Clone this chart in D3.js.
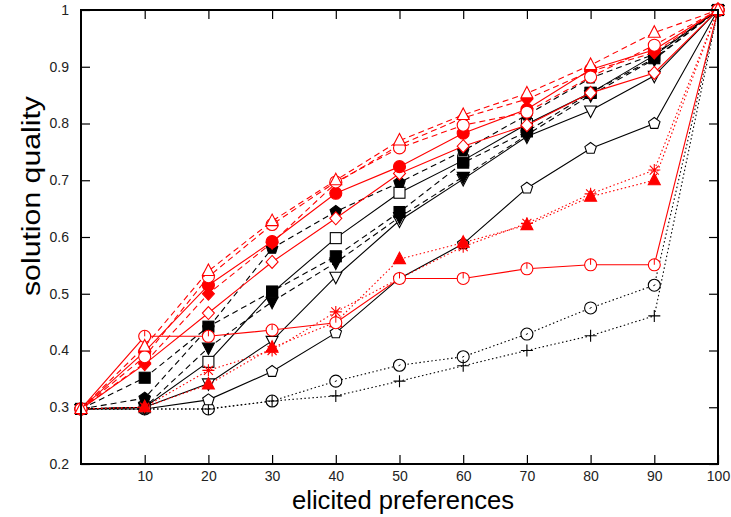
<!DOCTYPE html>
<html><head><meta charset="utf-8">
<script src="https://cdn.jsdelivr.net/npm/d3@7"></script>
<style>
body{margin:0;background:#fff;}
text{font-family:"Liberation Sans",Arial,sans-serif;}
</style></head>
<body><svg id="c" width="731" height="517"></svg>
<script>
const xValues = [0,10,20,30,40,50,60,70,80,90,100];
const xTickLabels = [10,20,30,40,50,60,70,80,90,100];
const yTickValues = [0.2,0.3,0.4,0.5,0.6,0.7,0.8,0.9,1];

const blackPentagonOpen   = [0.297,0.297,0.313,0.363,0.431,0.527,0.588,0.686,0.756,0.800,1];
const blackDownOpen       = [0.297,0.300,0.342,0.417,0.530,0.629,0.702,0.777,0.823,0.884,1];
const blackSquareOpen     = [0.297,0.300,0.380,0.502,0.598,0.678,0.735,0.799,0.854,0.920,1];
const blackSquareFilled   = [0.297,0.352,0.442,0.504,0.566,0.644,0.731,0.786,0.854,0.915,1];
const blackDownFilled     = [0.297,0.300,0.405,0.486,0.555,0.635,0.706,0.780,0.850,0.913,1];
const blackPentagonFilled = [0.297,0.316,0.440,0.580,0.645,0.696,0.752,0.815,0.880,0.922,1];
const blackCircleDotted   = [0.297,0.297,0.297,0.311,0.346,0.374,0.389,0.429,0.475,0.515,1];
const blackPlusDotted     = [0.297,0.297,0.297,0.311,0.320,0.346,0.373,0.400,0.426,0.461,1];
const redCircleSolid      = [0.297,0.425,0.425,0.436,0.449,0.527,0.527,0.544,0.551,0.551,1];
const redDiamondOpen      = [0.297,0.376,0.466,0.556,0.633,0.712,0.760,0.797,0.854,0.889,1];
const redCircleFilled     = [0.297,0.398,0.515,0.592,0.677,0.724,0.783,0.825,0.895,0.930,1];
const redTriangleOpen     = [0.297,0.407,0.540,0.628,0.700,0.770,0.815,0.853,0.903,0.960,1];
const redCircleOpenDashed = [0.297,0.389,0.530,0.622,0.697,0.757,0.797,0.820,0.882,0.938,1];
const redDiamondFilled    = [0.297,0.378,0.500,0.590,0.695,0.762,0.810,0.843,0.892,0.925,1];
const redTriangleFilled   = [0.297,0.300,0.340,0.405,0.450,0.561,0.590,0.621,0.671,0.700,1];
const redAsterisk         = [0.297,0.300,0.365,0.400,0.468,0.527,0.583,0.624,0.676,0.718,1];

const series = [
  {v: blackCircleDotted,   color:"#000", dash:"1.5,2.5", marker:"circledot",  fill:false},
  {v: blackPlusDotted,     color:"#000", dash:"1.5,2.5", marker:"plus",       fill:false},
  {v: blackPentagonOpen,   color:"#000", dash:null,      marker:"pentagon",   fill:false},
  {v: blackDownOpen,       color:"#000", dash:null,      marker:"down",       fill:false},
  {v: blackSquareOpen,     color:"#000", dash:null,      marker:"square",     fill:false},
  {v: blackDownFilled,     color:"#000", dash:"6,4",     marker:"down",       fill:true},
  {v: blackSquareFilled,   color:"#000", dash:"6,4",     marker:"square",     fill:true},
  {v: blackPentagonFilled, color:"#000", dash:"6,4",     marker:"pentagon",   fill:true},
  {v: redTriangleFilled,   color:"#f00", dash:"1.5,2.5", marker:"up",         fill:true},
  {v: redAsterisk,         color:"#f00", dash:"1.5,2.5", marker:"asterisk",   fill:false},
  {v: redCircleSolid,      color:"#f00", dash:null,      marker:"circletick", fill:false},
  {v: redDiamondOpen,      color:"#f00", dash:null,      marker:"diamond",    fill:false},
  {v: redCircleFilled,     color:"#f00", dash:null,      marker:"circle",     fill:true},
  {v: redDiamondFilled,    color:"#f00", dash:"6,4",     marker:"diamond",    fill:true},
  {v: redCircleOpenDashed, color:"#f00", dash:"6,4",     marker:"circle",     fill:false},
  {v: redTriangleOpen,     color:"#f00", dash:"6,4",     marker:"up",         fill:false}
];

const svg = d3.select("#c");
const L = 81, R = 718, T = 10, B = 464;
const x = d3.scaleLinear().domain([0,100]).range([L,R]);
const y = d3.scaleLinear().domain([0.2,1]).range([B,T]);

const tk = 9;
const gB = svg.append("g").attr("transform",`translate(0,${B})`)
  .call(d3.axisBottom(x).tickValues(xTickLabels).tickSizeInner(-tk).tickSizeOuter(0).tickPadding(7));
const gT = svg.append("g").attr("transform",`translate(0,${T})`)
  .call(d3.axisTop(x).tickValues(xTickLabels.slice(0,-1)).tickSizeInner(-tk).tickSizeOuter(0).tickFormat(""));
const gL = svg.append("g").attr("transform",`translate(${L},0)`)
  .call(d3.axisLeft(y).tickValues(yTickValues).tickSizeInner(-tk).tickSizeOuter(0).tickPadding(12)
    .tickFormat(d => d===1 ? "1" : d3.format(".1f")(d)));
const gR = svg.append("g").attr("transform",`translate(${R},0)`)
  .call(d3.axisRight(y).tickValues(yTickValues).tickSizeInner(-tk).tickSizeOuter(0).tickFormat(""));
[gB,gT,gL,gR].forEach(g=>{
  g.select(".domain").remove();
  g.selectAll("line").attr("stroke","#000").attr("stroke-width",1.2);
  g.selectAll("text").attr("font-size",14).attr("fill","#222")
   .style("font-family",'"Liberation Sans",Arial,sans-serif');
});

svg.append("clipPath").attr("id","clp").append("rect")
  .attr("x",L).attr("y",T).attr("width",R-L).attr("height",B-T);

const line = d3.line().x((d,i)=>x(xValues[i])).y(d=>y(d));
const plot = svg.append("g");

function drawMarker(g, type, cx, cy, col, filled){
  const s = 6;
  const f = filled ? col : "#fff";
  const st = {stroke:col, "stroke-width":1.1, fill:f};
  const apply = sel => { for (const k in st) sel.attr(k, st[k]); return sel; };
  if (type==="circle" || type==="circledot" || type==="circletick"){
    apply(g.append("circle").attr("cx",cx).attr("cy",cy).attr("r",s));
    if (type==="circledot") g.append("line").attr("x1",cx-1).attr("x2",cx+1).attr("y1",cy+0.5).attr("y2",cy-0.5).attr("stroke",col);
    if (type==="circletick") g.append("line").attr("x1",cx).attr("x2",cx).attr("y1",cy-s).attr("y2",cy).attr("stroke",col);
  } else if (type==="square"){
    apply(g.append("rect").attr("x",cx-s+0.5).attr("y",cy-s+0.5).attr("width",2*s-1).attr("height",2*s-1));
  } else if (type==="up"){
    apply(g.append("path").attr("d",`M${cx},${cy-s-1}L${cx+s},${cy+s-1.5}L${cx-s},${cy+s-1.5}Z`));
  } else if (type==="down"){
    apply(g.append("path").attr("d",`M${cx},${cy+s+1}L${cx+s},${cy-s+1.5}L${cx-s},${cy-s+1.5}Z`));
  } else if (type==="diamond"){
    apply(g.append("path").attr("d",`M${cx},${cy-s-0.5}L${cx+s},${cy}L${cx},${cy+s+0.5}L${cx-s},${cy}Z`));
  } else if (type==="pentagon"){
    const pts = d3.range(5).map(k=>{const a=-Math.PI/2+k*2*Math.PI/5; return [cx+s*Math.cos(a), cy+s*Math.sin(a)];});
    apply(g.append("path").attr("d","M"+pts.join("L")+"Z"));
  } else if (type==="plus"){
    g.append("path").attr("d",`M${cx-s},${cy}H${cx+s}M${cx},${cy-s}V${cy+s}`).attr("stroke",col).attr("stroke-width",1.1).attr("fill","none");
  } else if (type==="asterisk"){
    let d = `M${cx-s},${cy}H${cx+s}M${cx},${cy-s}V${cy+s}`;
    const q = s*0.75;
    d += `M${cx-q},${cy-q}L${cx+q},${cy+q}M${cx-q},${cy+q}L${cx+q},${cy-q}`;
    g.append("path").attr("d",d).attr("stroke",col).attr("stroke-width",1.1).attr("fill","none");
  }
}

series.forEach(s=>{
  const g = plot.append("g");
  const p = g.append("path").datum(s.v).attr("d",line).attr("fill","none")
    .attr("stroke",s.color).attr("stroke-width",1.1).attr("clip-path","url(#clp)");
  if (s.dash) p.attr("stroke-dasharray",s.dash);
  s.v.forEach((v,i)=> drawMarker(g, s.marker, x(xValues[i]), y(v), s.color, s.fill));
});

svg.append("rect").attr("x",L).attr("y",T).attr("width",R-L).attr("height",B-T)
  .attr("fill","none").attr("stroke","#000").attr("stroke-width",2);

svg.append("text").attr("x",403).attr("y",509).attr("text-anchor","middle")
  .attr("font-size",25).attr("fill","#000")
  .attr("textLength",222).attr("lengthAdjust","spacingAndGlyphs").text("elicited preferences");
svg.append("text").attr("transform","translate(40,196) rotate(-90)").attr("text-anchor","middle")
  .attr("font-size",25).attr("fill","#000")
  .attr("textLength",200).attr("lengthAdjust","spacingAndGlyphs").text("solution quality");
</script></body></html>
